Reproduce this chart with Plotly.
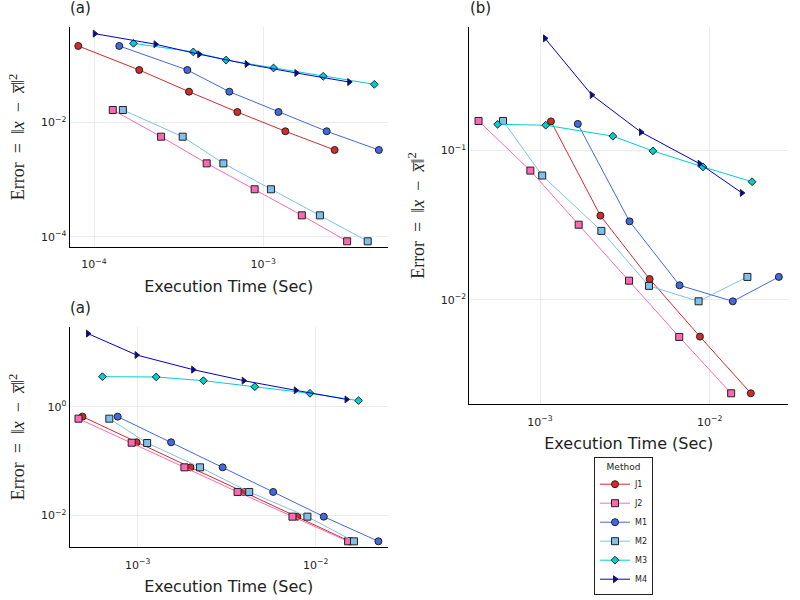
import plotly.graph_objects as go

methods = ["J1", "J2", "M1", "M2", "M3", "M4"]
colors = ["#d42a2a", "#ff69b4", "#4169e1", "#7ec0ee", "#00ced1", "#0000cd"]
symbols = ["circle", "square", "circle", "square", "diamond", "triangle-right"]
sizes = [7, 7, 7, 7, 6, 6]

# panel (a), top
top_x = {
    "J1": [8.07e-5, 1.85e-4, 3.64e-4, 7.03e-4, 1.35e-3, 2.64e-3],
    "J2": [1.29e-4, 2.49e-4, 4.63e-4, 8.89e-4, 1.69e-3, 3.13e-3],
    "M1": [1.41e-4, 3.56e-4, 6.30e-4, 1.23e-3, 2.37e-3, 4.82e-3],
    "M2": [1.48e-4, 3.34e-4, 5.81e-4, 1.11e-3, 2.16e-3, 4.14e-3],
    "M3": [1.71e-4, 3.86e-4, 6.03e-4, 1.15e-3, 2.26e-3, 4.53e-3],
    "M4": [1.01e-4, 2.31e-4, 4.19e-4, 7.98e-4, 1.57e-3, 3.22e-3],
}
top_y = {
    "J1": [0.215, 0.0818, 0.0342, 0.0151, 0.00697, 0.00329],
    "J2": [0.0164, 5.61e-3, 1.92e-3, 6.78e-4, 2.38e-4, 8.38e-5],
    "M1": [0.215, 0.0818, 0.0342, 0.0151, 0.00697, 0.00329],
    "M2": [0.0164, 5.61e-3, 1.92e-3, 6.78e-4, 2.38e-4, 8.38e-5],
    "M3": [0.239, 0.169, 0.122, 0.0887, 0.0635, 0.0460],
    "M4": [0.352, 0.230, 0.154, 0.104, 0.0724, 0.0505],
}

# panel (a), bottom
bot_x = {
    "J1": [4.90e-4, 9.86e-4, 1.98e-3, 3.94e-3, 7.89e-3, 1.55e-2],
    "J2": [4.65e-4, 9.25e-4, 1.83e-3, 3.64e-3, 7.40e-3, 1.52e-2],
    "M1": [7.72e-4, 1.54e-3, 3.00e-3, 5.77e-3, 1.11e-2, 2.25e-2],
    "M2": [6.93e-4, 1.13e-3, 2.24e-3, 4.23e-3, 8.98e-3, 1.64e-2],
    "M3": [6.34e-4, 1.27e-3, 2.34e-3, 4.55e-3, 9.29e-3, 1.74e-2],
    "M4": [5.26e-4, 9.86e-4, 2.05e-3, 3.94e-3, 7.73e-3, 1.49e-2],
}
bot_y = {
    "J1": [0.655, 0.221, 0.0764, 0.0269, 0.00944, 0.00332],
    "J2": [0.601, 0.217, 0.0764, 0.0269, 0.00944, 0.00332],
    "M1": [0.655, 0.221, 0.0764, 0.0269, 0.00944, 0.00332],
    "M2": [0.601, 0.214, 0.0764, 0.0269, 0.00944, 0.00332],
    "M3": [3.56, 3.52, 3.01, 2.33, 1.76, 1.29],
    "M4": [22.1, 8.93, 4.80, 3.01, 2.00, 1.36],
}

# panel (b)
b_x = {
    "J1": [1.16e-3, 2.27e-3, 4.43e-3, 8.77e-3, 1.75e-2],
    "J2": [4.34e-4, 8.77e-4, 1.69e-3, 3.35e-3, 6.62e-3, 1.34e-2],
    "M1": [1.67e-3, 3.37e-3, 6.65e-3, 1.37e-2, 2.56e-2],
    "M2": [6.05e-4, 1.03e-3, 2.30e-3, 4.39e-3, 8.61e-3, 1.67e-2],
    "M3": [5.62e-4, 1.08e-3, 2.69e-3, 4.63e-3, 9.14e-3, 1.78e-2],
    "M4": [1.07e-3, 2.02e-3, 3.94e-3, 8.73e-3, 1.55e-2],
}
b_y = {
    "J1": [0.157, 0.0367, 0.0138, 0.00568, 0.00237],
    "J2": [0.158, 0.0735, 0.0319, 0.01346, 0.00565, 0.00237],
    "M1": [0.151, 0.0336, 0.01254, 0.00979, 0.01426],
    "M2": [0.158, 0.0681, 0.0290, 0.01242, 0.00979, 0.01426],
    "M3": [0.150, 0.148, 0.125, 0.0995, 0.0778, 0.0619],
    "M4": [0.565, 0.236, 0.133, 0.0818, 0.0521],
}

fig = go.Figure()

panels = [(top_x, top_y, "x", "y"), (bot_x, bot_y, "x2", "y2"), (b_x, b_y, "x3", "y3")]
for p, (xs, ys, xa, ya) in enumerate(panels):
    for i, m in enumerate(methods):
        fig.add_trace(go.Scatter(
            x=xs[m], y=ys[m], xaxis=xa, yaxis=ya, name=m, mode="lines+markers",
            line=dict(color=colors[i], width=1),
            marker=dict(symbol=symbols[i], size=sizes[i], color=colors[i],
                        line=dict(color="#222222", width=1)),
            showlegend=(p == 2),
        ))

sans = "DejaVu Sans"
serif = "Liberation Serif"
sp = "\u2002"
ytitle = "Error" + sp + "=" + sp + "‖<i>x</i>" + sp + "−" + sp + "<i>x̅</i>‖<sup>2</sup>"

W, H = 800, 600

def X(px):
    return px / W

def Y(py):
    return 1 - py / H

def tk(v):
    return "10<sup>−%d</sup>" % -v if v < 0 else "10<sup>%d</sup>" % v

def xax(dom, rng, vals, anchor):
    return dict(type="log", domain=dom, range=rng, anchor=anchor, automargin=False,
                tickvals=[10.0 ** v for v in vals], ticktext=[tk(v) for v in vals],
                showline=True, linecolor="black", linewidth=1, mirror=False,
                showgrid=True, gridcolor="#ebebeb", gridwidth=0.6, zeroline=False,
                ticks="", ticklabelstandoff=7, tickfont=dict(family=sans, size=11, color="#222"),
                title=dict(text="Execution Time (Sec)", font=dict(family=sans, size=16, color="#222"),
                           standoff=10))

def yax(dom, rng, vals, anchor):
    return dict(type="log", domain=dom, range=rng, anchor=anchor, automargin=False,
                tickvals=[10.0 ** v for v in vals], ticktext=[tk(v) for v in vals],
                showline=True, linecolor="black", linewidth=1, mirror=False,
                showgrid=True, gridcolor="#ebebeb", gridwidth=0.6, zeroline=False,
                ticks="", tickfont=dict(family=sans, size=11, color="#222"),
                title=dict(text=ytitle, font=dict(family=serif, size=18, color="#222"),
                           standoff=11))

fig.update_layout(
    width=W, height=H, margin=dict(l=0, r=0, t=0, b=0),
    plot_bgcolor="white", paper_bgcolor="white",
    xaxis=xax([X(69.5), X(388)], [-4.145, -2.263], [-4, -3], "y"),
    yaxis=yax([Y(247), Y(27)], [-4.176, -0.337], [-4, -2], "x"),
    xaxis2=xax([X(69.5), X(388)], [-3.383, -1.594], [-3, -2], "y2"),
    yaxis2=yax([Y(547.3), Y(326.7)], [-2.589, 1.472], [-2, 0], "x2"),
    xaxis3=xax([X(469.3), X(788.3)], [-3.417, -1.536], [-3, -2], "y3"),
    yaxis3=yax([Y(404.3), Y(26.7)], [-2.699, -0.170], [-2, -1], "x3"),
    legend=dict(x=X(594), y=Y(457), xanchor="left", yanchor="top",
                bordercolor="#222", borderwidth=1, bgcolor="white", itemwidth=30,
                font=dict(family=sans, size=8, color="#222"),
                title=dict(text="Method", side="top center", font=dict(family=sans, size=9, color="#222"))),
    annotations=[
        dict(text="(a)", x=X(68), y=Y(8), xref="paper", yref="paper",
             xanchor="left", yanchor="middle", showarrow=False, font=dict(family=sans, size=15, color="#222")),
        dict(text="(a)", x=X(68), y=Y(308), xref="paper", yref="paper",
             xanchor="left", yanchor="middle", showarrow=False, font=dict(family=sans, size=15, color="#222")),
        dict(text="(b)", x=X(468), y=Y(8), xref="paper", yref="paper",
             xanchor="left", yanchor="middle", showarrow=False, font=dict(family=sans, size=15, color="#222")),
    ],
)

fig.write_html("out.html", config={"displayModeBar": False},
               post_script="document.body.style.margin='0px';")
